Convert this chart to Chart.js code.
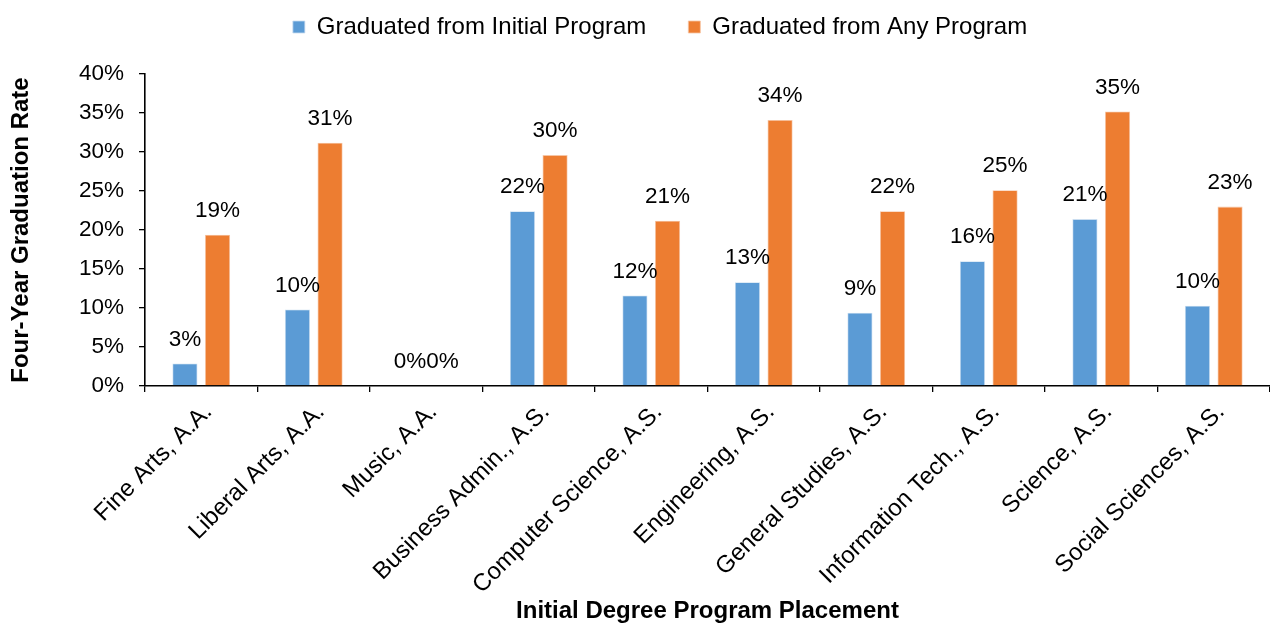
<!DOCTYPE html>
<html>
<head>
<meta charset="utf-8">
<script src="https://cdn.jsdelivr.net/npm/chart.js@4"></script>
<style>
html,body{margin:0;padding:0;background:#fff;}
#wrap{width:1270px;height:626px;position:relative;}
</style>
</head>
<body>
<div id="wrap"><canvas id="c"></canvas></div>
<script>
const categories = ['Fine Arts, A.A.', 'Liberal Arts, A.A.', 'Music, A.A.', 'Business Admin., A.S.', 'Computer Science, A.S.', 'Engineering, A.S.', 'General Studies, A.S.', 'Information Tech., A.S.', 'Science, A.S.', 'Social Sciences, A.S.'];
const initialProgram = [2.9, 9.8, 0, 22.4, 11.6, 13.3, 9.4, 16.0, 21.4, 10.3];
const anyProgram = [19.4, 31.2, 0, 29.6, 21.2, 34.1, 22.4, 25.1, 35.2, 23.0];
const seriesNames = ['Graduated from Initial Program', 'Graduated from Any Program'];
const yTicks = [0, 5, 10, 15, 20, 25, 30, 35, 40];

const FONT = "'Liberation Sans', Arial, sans-serif";

const valueLabels = {
  id: 'valueLabels',
  afterDatasetsDraw(chart) {
    const ctx = chart.ctx;
    ctx.save();
    ctx.font = '22.5px ' + FONT;
    ctx.fillStyle = '#000';
    ctx.textAlign = 'center';
    ctx.textBaseline = 'middle';
    chart.data.datasets.forEach((ds, di) => {
      const meta = chart.getDatasetMeta(di);
      meta.data.forEach((bar, i) => {
        ctx.fillText(Math.round(ds.data[i]) + '%', bar.x, bar.y - 24);
      });
    });
    ctx.restore();
  }
};

// legend placement tweaks: fixed block height, shifted row
const legendPlace = {
  id: 'legendPlace',
  beforeLayout(chart) {
    const lg = chart.legend;
    if (lg && !lg._wrapped) {
      const f = lg.fit;
      lg.fit = function () { f.call(this); this.height = 74; };
      lg._wrapped = true;
    }
  },
  afterLayout(chart) {
    const lg = chart.legend;
    if (!lg) return;
    lg.top -= 27;
    lg.left += 25;
    lg.right += 25;
  }
};

new Chart(document.getElementById('c'), {
  type: 'bar',
  data: {
    labels: categories,
    datasets: [
      { label: seriesNames[0], data: initialProgram, backgroundColor: '#5B9BD5', borderColor: '#C9DDF0', borderWidth: 0.8, categoryPercentage: 0.58, barPercentage: 0.77 },
      { label: seriesNames[1], data: anyProgram, backgroundColor: '#ED7D31', borderColor: '#F6C5A5', borderWidth: 0.8, categoryPercentage: 0.58, barPercentage: 0.77 }
    ]
  },
  options: {
    responsive: true,
    maintainAspectRatio: false,
    animation: false,
    events: [],
    layout: { padding: { top: 0, right: 0, left: 0, bottom: 0 } },
    plugins: {
      legend: {
        position: 'top',
        labels: {
          boxWidth: 12, boxHeight: 12, color: '#000',
          font: { family: FONT, size: 24 },
          padding: 42
        }
      },
      tooltip: { enabled: false }
    },
    scales: {
      x: {
        afterFit(scale) { scale.height = 240; },
        grid: { offset: true, drawOnChartArea: false, drawTicks: true, tickLength: 6, color: '#000', lineWidth: 1.3 },
        border: { color: '#000', width: 1.6 },
        ticks: { color: '#000', font: { family: FONT, size: 24 }, minRotation: 45, maxRotation: 45, padding: 6, labelOffset: 7, autoSkip: false },
        title: { display: true, text: 'Initial Degree Program Placement', color: '#000', font: { family: FONT, size: 24, weight: 'bold' }, padding: { top: 0, bottom: 0 } }
      },
      y: {
        min: 0, max: 40,
        afterBuildTicks(scale) { scale.ticks = yTicks.map(v => ({ value: v })); },
        afterFit(scale) { scale.width = 145; },
        grid: { drawOnChartArea: false, drawTicks: true, tickLength: 6, color: '#000', lineWidth: 1.3 },
        border: { color: '#000', width: 1.6 },
        ticks: { color: '#000', font: { family: FONT, size: 22.5 }, padding: 15, callback: v => v + '%' },
        title: { display: true, text: 'Four-Year Graduation Rate', color: '#000', font: { family: FONT, size: 24, weight: 'bold' }, padding: { top: 7, bottom: 0 } }
      }
    }
  },
  plugins: [valueLabels, legendPlace]
});
</script>
</body>
</html>
